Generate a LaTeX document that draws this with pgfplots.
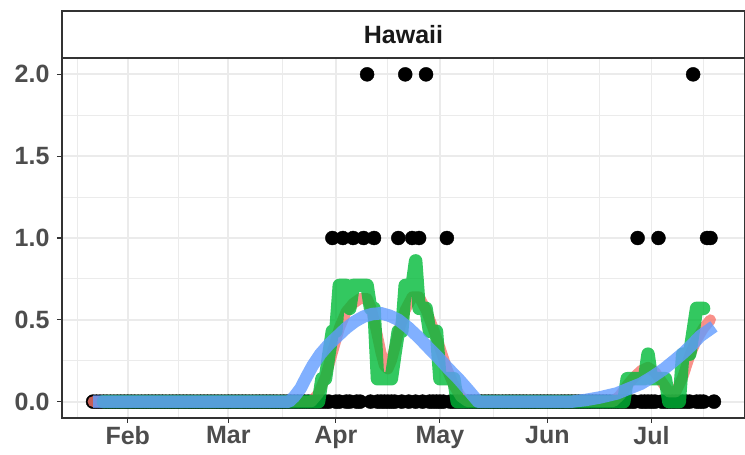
\documentclass[border=0pt]{standalone}
\usepackage{fontspec}
\setmainfont{Liberation Sans}
\usepackage{pgfplots}
\pgfplotsset{compat=1.18}

\definecolor{gred}{HTML}{F8766D}
\definecolor{ggreen}{HTML}{00BA38}
\definecolor{gblue}{HTML}{619CFF}
\definecolor{gridc}{HTML}{EBEBEB}
\definecolor{axc}{HTML}{333333}
\definecolor{tickc}{HTML}{4D4D4D}

\begin{document}
\begin{tikzpicture}
\useasboundingbox (-62pt,-37pt) rectangle (683pt,418pt);
\begin{axis}[
    at={(0,0)}, anchor=south west,
    scale only axis, width=683pt, height=360pt,
    xmin=13.05, xmax=209.95, ymin=-0.1, ymax=2.1,
    clip marker paths=true,
    xtick={32,61,92,122,153,183},
    xticklabels={Feb,Mar,Apr,May,Jun,Jul},
    minor xtick={17.5,46.5,76.5,107,137.5,168,198},
    ytick={0,0.5,1,1.5,2},
    yticklabels={0.0,0.5,1.0,1.5,2.0},
    minor ytick={0.25,0.75,1.25,1.75},
    grid=both,
    major grid style={gridc, line width=1.8pt},
    minor grid style={gridc, line width=0.9pt},
    axis line style={axc, line width=1.1pt},
    tick align=outside,
    xtick pos=bottom, ytick pos=left,
    major tick length=5pt, minor tick length=0pt,
    tick style={axc, line width=1.1pt},
    tick label style={font=\fontsize{25}{25}\selectfont\bfseries, text=tickc},
    yticklabel style={xshift=-4pt},
]
% daily counts
\addplot[only marks, mark=*, mark size=7pt, mark options={draw=black, fill=black}] coordinates {
(22,0)(23,0)(24,0)(25,0)(26,0)(27,0)(28,0)(29,0)(30,0)(31,0)
(32,0)(33,0)(34,0)(35,0)(36,0)(37,0)(38,0)(39,0)(40,0)(41,0)
(42,0)(43,0)(44,0)(45,0)(46,0)(47,0)(48,0)(49,0)(50,0)(51,0)
(52,0)(53,0)(54,0)(55,0)(56,0)(57,0)(58,0)(59,0)(60,0)(61,0)
(62,0)(63,0)(64,0)(65,0)(66,0)(67,0)(68,0)(69,0)(70,0)(71,0)
(72,0)(73,0)(74,0)(75,0)(76,0)(77,0)(78,0)(79,0)(80,0)(81,0)
(82,0)(83,0)(84,0)(85,0)(86,0)(87,0)(88,0)(89,0)(90,0)
(91,1)(92,0)(93,0)(94,1)(95,0)(96,0)(97,1)(98,0)(99,0)(100,1)
(101,2)(102,0)(103,1)(104,0)(105,0)(106,0)(107,0)(108,0)(109,0)(110,1)
(111,0)(112,2)(113,0)(114,1)(115,0)(116,1)(117,0)(118,2)(119,0)(120,0)
(121,0)(122,0)(123,0)(124,1)(125,0)(126,0)(127,0)(128,0)(129,0)(130,0)
(131,0)(132,0)(133,0)(134,0)(135,0)(136,0)(137,0)(138,0)(139,0)(140,0)
(141,0)(142,0)(143,0)(144,0)(145,0)(146,0)(147,0)(148,0)(149,0)(150,0)
(151,0)(152,0)(153,0)(154,0)(155,0)(156,0)(157,0)(158,0)(159,0)(160,0)
(161,0)(162,0)(163,0)(164,0)(165,0)(166,0)(167,0)(168,0)(169,0)(170,0)
(171,0)(172,0)(173,0)(174,0)(175,0)(176,0)(177,0)(178,0)(179,1)(180,0)
(181,0)(182,0)(183,0)(184,0)(185,1)(186,0)(187,0)(188,0)(189,0)(190,0)
(191,0)(192,0)(193,0)(194,0)(195,2)(196,0)(197,0)(198,0)(199,1)(200,1)
(201,0)
};
% smoothed average (red)
\addplot[gred, opacity=0.8, line width=11pt, line join=round, line cap=round] coordinates {
(22,0)(85,0)(87,0.05)(89,0.15)(91,0.3)(93,0.45)(95,0.55)(97,0.6)(99,0.63)(101,0.63)
(102,0.58)(103,0.5)(104,0.4)(105,0.3)(106,0.22)(107,0.2)(108,0.25)(109,0.33)(110,0.42)
(112,0.56)(114,0.64)(116,0.64)(117,0.6)(118,0.56)(120,0.45)(122,0.33)(124,0.2)(126,0.1)
(128,0.03)(130,0)(172,0)(174,0.04)(176,0.1)(178,0.15)(180,0.19)(182,0.21)(184,0.18)
(186,0.12)(188,0.06)(190,0.06)(192,0.15)(194,0.28)(196,0.38)(198,0.45)(200,0.5)
};
% 7-day average (green)
\addplot[ggreen, opacity=0.8, line width=13.5pt, line join=round, line cap=round] coordinates {
(25,0)(87,0)(88,0.14)(89,0.14)(90,0.29)(91,0.43)(92,0.43)(93,0.71)(94,0.71)(95,0.71)
(96,0.57)(97,0.71)(98,0.71)(99,0.71)(100,0.71)(101,0.71)(102,0.57)(103,0.57)(104,0.14)
(105,0.14)(106,0.14)(107,0.14)(108,0.14)(109,0.29)(110,0.43)(111,0.43)(112,0.71)(113,0.71)
(114,0.71)(115,0.86)(116,0.57)(117,0.57)(118,0.57)(119,0.43)(120,0.43)(121,0.43)(122,0.14)
(123,0.14)(124,0.14)(125,0.14)(126,0.14)(127,0)(175,0)(176,0.14)(177,0.14)(178,0.14)
(179,0.14)(180,0.14)(181,0.14)(182,0.29)(183,0.14)(184,0.14)(185,0.14)(186,0.14)(187,0.14)
(188,0)(189,0)(190,0)(191,0)(192,0.29)(193,0.29)(194,0.29)(195,0.43)(196,0.57)(197,0.57)
(198,0.57)
};
% smooth trend (blue)
\addplot[gblue, opacity=0.8, line width=12.5pt, line join=round] coordinates {
(22,0)(78.5,0)(80,0.03)(81.8,0.08)(83.5,0.15)(85.3,0.22)(87.5,0.29)(90,0.35)(92.5,0.4)
(95,0.45)(97.5,0.49)(100,0.52)(102.5,0.535)(105,0.54)(107.5,0.525)(110,0.5)(113,0.45)
(116,0.39)(118.7,0.33)(121.5,0.27)(124.5,0.2)(127.3,0.14)(130.2,0.07)(133,0)(160,0)
(164,0.01)(168,0.025)(173,0.05)(176.5,0.08)(180,0.11)(183.5,0.155)(186.6,0.2)(189.5,0.25)
(192.3,0.3)(194.8,0.35)(197,0.4)(199,0.43)(201,0.46)
};
\end{axis}
\draw[axc, line width=1.1pt, fill=white] (0,360pt) rectangle (683pt,407pt);
\node[font=\fontsize{25}{25}\selectfont\bfseries, text=black!90] at (341.5pt,383.5pt) {Hawaii};
\end{tikzpicture}
\end{document}
